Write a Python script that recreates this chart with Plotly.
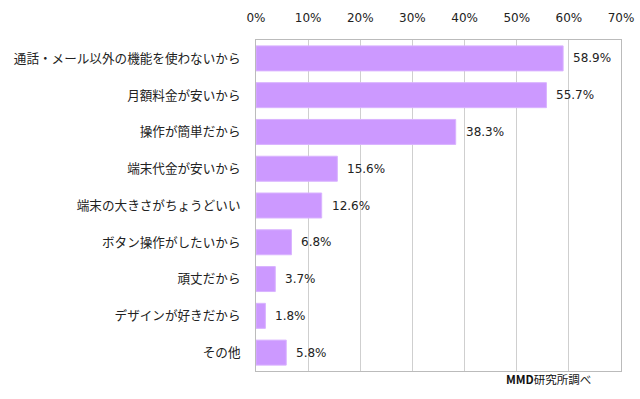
import plotly.graph_objects as go

categories = [
    "通話・メール以外の機能を使わないから",
    "月額料金が安いから",
    "操作が簡単だから",
    "端末代金が安いから",
    "端末の大きさがちょうどいい",
    "ボタン操作がしたいから",
    "頑丈だから",
    "デザインが好きだから",
    "その他",
]
values = [58.9, 55.7, 38.3, 15.6, 12.6, 6.8, 3.7, 1.8, 5.8]
tick_vals = [0, 10, 20, 30, 40, 50, 60, 70]
tick_text = ["0%", "10%", "20%", "30%", "40%", "50%", "60%", "70%"]
source_note = "<b>MMD</b>研究所調べ"

JP = "Noto Sans CJK JP, sans-serif"
NUM = "DejaVu Sans, Verdana, sans-serif"

fig = go.Figure()
fig.add_trace(go.Bar(
    x=values, y=categories, orientation="h",
    marker=dict(color="#CC99FF", line=dict(color="#D9B3FF", width=1)),
    hoverinfo="skip",
))

for c, v in zip(categories, values):
    fig.add_annotation(
        x=v, y=c, xref="x", yref="y", text=f"{v:.1f}%",
        showarrow=False, xanchor="left", yanchor="middle", xshift=8,
        font=dict(family=NUM, size=12, color="#222222"),
    )

fig.add_annotation(
    x=0.922, y=-0.024, xref="paper", yref="paper", text=source_note,
    showarrow=False, xanchor="right", yanchor="middle",
    font=dict(family=JP, size=11.5, color="#111111"),
)

fig.update_layout(
    width=640, height=399,
    margin=dict(l=255.5, r=18.5, t=40, b=28),
    paper_bgcolor="white", plot_bgcolor="white",
    bargap=0.32, showlegend=False,
    xaxis=dict(
        side="top", range=[0, 70], tickvals=tick_vals, ticktext=tick_text,
        showgrid=True, gridcolor="#CFCFCF", gridwidth=1,
        showline=True, linecolor="#BBBBBB", mirror=True, linewidth=1,
        zeroline=False, ticks="", fixedrange=True, automargin=False,
        ticklabelstandoff=12,
        tickfont=dict(family=NUM, size=12, color="#222222"),
    ),
    yaxis=dict(
        autorange="reversed", showgrid=False, automargin=False,
        showline=True, linecolor="#BBBBBB", mirror=True, linewidth=1,
        ticks="", ticklabelstandoff=12, fixedrange=True,
        tickfont=dict(family=JP, size=12.6, color="#222222"),
    ),
)

fig.write_html(
    "out.html",
    config={"displayModeBar": False, "staticPlot": True},
    post_script="document.body.style.margin='0';document.body.style.overflow='hidden';",
)
